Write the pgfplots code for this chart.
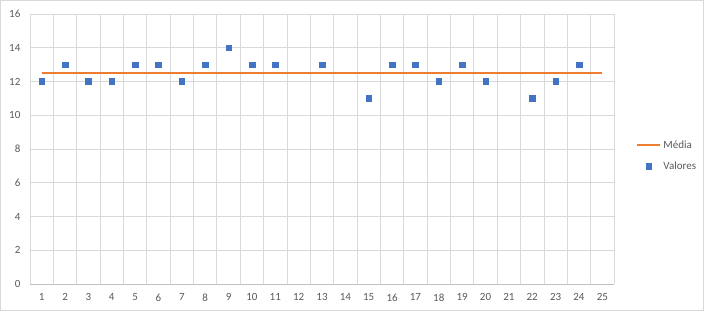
\documentclass[border=0pt]{standalone}
\usepackage{pgfplots}
\pgfplotsset{compat=1.18}
\usepackage{fontspec}
\setmainfont{Carlito}
\definecolor{txt}{HTML}{595959}
\definecolor{gridc}{HTML}{D9D9D9}
\definecolor{axc}{HTML}{BFBFBF}
\definecolor{blu}{HTML}{4472C4}
\definecolor{org}{HTML}{ED7D31}
\pgfplotsset{
  linelegend/.style={legend image code/.code={\draw[##1] (0pt,0pt) -- (23pt,0pt);}},
  marklegend/.style={legend image code/.code={\draw[##1] plot coordinates {(11.5pt,0pt)};}},
}
\begin{document}
\begin{tikzpicture}[x=1pt,y=1pt]
\draw[gridc, line width=0.8pt] (0.4,0.4) rectangle (703.6,310.6);
\path[use as bounding box] (0,0) rectangle (704,311);
\begin{axis}[
  at={(30pt,27pt)}, anchor=south west,
  scale only axis, width=584pt, height=270pt,
  xmin=0.5, xmax=25.5, ymin=0, ymax=16,
  xtick={1,...,25}, ytick={0,2,...,16},
  minor xtick={0.5,1.5,...,25.5},
  xminorgrids=true, ymajorgrids=true, xmajorgrids=false,
  grid style={gridc, line width=0.8pt},
  minor grid style={gridc, line width=0.8pt},
  axis x line=bottom, axis y line=left,
  x axis line style={-, axc, line width=0.8pt},
  y axis line style={draw=none},
  major tick style={draw=none}, minor tick style={draw=none},
  tick label style={font=\fontsize{11}{13}\selectfont, text=txt},
  /pgf/number format/assume math mode=true,
  xticklabel style={yshift=-4pt},
  yticklabel style={xshift=-4pt},
  legend style={at={(1.032,0.475)}, anchor=west, draw=none, fill=none,
    font=\fontsize{11}{13}\selectfont, text=txt, row sep=8pt,
    /tikz/every even column/.append style={column sep=2pt}},
  legend cell align=left,
  clip=false,
]
\addplot[org, line width=2.6pt, no marks, linelegend] coordinates {(1,12.5) (25,12.5)};
\addlegendentry{Média}
\addplot[only marks, mark=square*, mark size=2.8pt, blu, marklegend]
  coordinates {
  (1,12) (2,13) (3,12) (4,12) (5,13) (6,13) (7,12) (8,13) (9,14) (10,13)
  (11,13) (13,13) (15,11) (16,13) (17,13) (18,12) (19,13) (20,12)
  (22,11) (23,12) (24,13)
  };
\addlegendentry{Valores}
\end{axis}
\end{tikzpicture}
\end{document}
